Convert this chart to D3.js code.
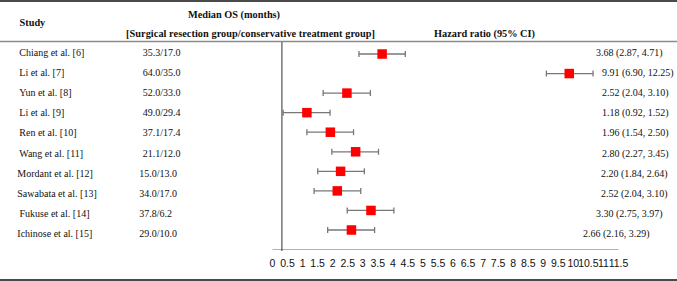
<!DOCTYPE html>
<html><head><meta charset="utf-8">
<script src="https://cdn.jsdelivr.net/npm/d3@7"></script>
<style>
html,body{margin:0;padding:0;background:#fff;}
svg{display:block;}
.serif{font-family:"Liberation Serif","Times New Roman",serif;}
</style></head>
<body>
<script>
// ---- data ----
const studies = ["Chiang et al. [6]","Li et al. [7]","Yun et al. [8]","Li et al. [9]","Ren et al. [10]","Wang et al. [11]","Mordant et al. [12]","Sawabata et al. [13]","Fukuse et al. [14]","Ichinose et al. [15]"];
const medianOS = ["35.3/17.0","64.0/35.0","52.0/33.0","49.0/29.4","37.1/17.4","21.1/12.0","15.0/13.0","34.0/17.0","37.8/6.2","29.0/10.0"];
const hr     = [3.68, 9.91, 2.52, 1.18, 1.96, 2.80, 2.20, 2.52, 3.30, 2.66];
const ciLow  = [2.87, 6.90, 2.04, 0.92, 1.54, 2.27, 1.84, 2.04, 2.75, 2.16];
const ciHigh = [4.71, 12.25, 3.10, 1.52, 2.50, 3.45, 2.64, 3.10, 3.97, 3.29];
// marker and whisker positions as drawn in the picture
const plotPoint = [3.66, 9.88, 2.49, 1.16, 1.94, 2.78, 2.28, 2.17, 3.29, 2.64];
const plotLow   = [2.89, 9.12, 1.70, 0.37, 1.16, 1.99, 1.52, 1.40, 2.50, 1.85];
const plotHigh  = [4.43, 10.67, 3.27, 1.93, 2.71, 3.54, 3.07, 2.95, 4.05, 3.41];
const tickValues = d3.range(0, 11.51, 0.5);
const refValue = 0.33;

// ---- layout ----
const W = 677, H = 281;
const svg = d3.select("body").append("svg").attr("width", W).attr("height", H);
const x = d3.scaleLinear().domain([0, 11.5]).range([272, 618]);
const yText = d3.scaleLinear().domain([0, 9]).range([52.7, 233.3]);
const yMark = d3.scaleLinear().domain([0, 9]).range([54, 230]);
const studyX = [19.3,19.3,19.3,19.3,19.3,19.3,17.3,17.3,19.5,17.3];
const medX   = [142.7,142.7,142.7,142.7,142.7,142.7,139.3,139.3,139.3,139.3];
const hrX    = [596,602,602,602,602,602,601,601,596,583];

// table rules
svg.append("line").attr("x1",0).attr("x2",W).attr("y1",1).attr("y2",1).attr("stroke","#4a4a4a").attr("stroke-width",2);
svg.append("line").attr("x1",0).attr("x2",W).attr("y1",41.5).attr("y2",41.5).attr("stroke","#8a8a8a").attr("stroke-width",1.5);
svg.append("line").attr("x1",0).attr("x2",W).attr("y1",280).attr("y2",280).attr("stroke","#4a4a4a").attr("stroke-width",2);

// headers
const hdr = svg.append("g").attr("class","serif").attr("font-size",10.3).attr("font-weight","bold").attr("fill","#111");
hdr.append("text").attr("x",19.5).attr("y",26).text("Study");
hdr.append("text").attr("x",234).attr("y",17.5).attr("text-anchor","middle").text("Median OS (months)");
hdr.append("text").attr("x",126).attr("y",36.5).attr("textLength",249).attr("lengthAdjust","spacing")
  .text("[Surgical resection group/conservative treatment group]");
hdr.append("text").attr("x",434).attr("y",36.5).text("Hazard ratio (95% CI)");

// rows text
const rows = svg.append("g").attr("class","serif").attr("font-size",10).attr("fill","#111");
studies.forEach((s,i)=>{
  rows.append("text").attr("x",studyX[i]).attr("y",yText(i)+3.5).text(s);
  rows.append("text").attr("x",medX[i]).attr("y",yText(i)+3.5).text(medianOS[i]);
  rows.append("text").attr("x",hrX[i]).attr("y",yText(i)+3.5)
    .text(`${hr[i].toFixed(2)} (${ciLow[i].toFixed(2)}, ${ciHigh[i].toFixed(2)})`);
});

// axis
const axis = d3.axisBottom(x).tickValues(tickValues).tickSize(0).tickSizeOuter(0).tickPadding(11)
  .tickFormat(d => d3.format("~g")(d));
const ax = svg.append("g").attr("transform","translate(0,249)").call(axis);
ax.select(".domain").attr("stroke","#b0b0b0").attr("stroke-width",1);
ax.selectAll("text").attr("font-family","'Liberation Sans Narrow','Liberation Sans',Arial,sans-serif")
  .attr("font-size",10.5).attr("fill","#111");

// reference vertical line
svg.append("line").attr("x1",x(refValue)).attr("x2",x(refValue)).attr("y1",42).attr("y2",251)
  .attr("stroke","#333").attr("stroke-width",1);

// whiskers
const wk = svg.append("g").attr("stroke","#777").attr("stroke-width",1.3);
studies.forEach((s,i)=>{
  const yy = yMark(i);
  wk.append("line").attr("x1",x(plotLow[i])).attr("x2",x(plotHigh[i])).attr("y1",yy).attr("y2",yy);
  wk.append("line").attr("x1",x(plotLow[i])).attr("x2",x(plotLow[i])).attr("y1",yy-3).attr("y2",yy+3);
  wk.append("line").attr("x1",x(plotHigh[i])).attr("x2",x(plotHigh[i])).attr("y1",yy-3).attr("y2",yy+3);
});
// markers
const ms = 9.5;
svg.append("g").selectAll("rect").data(plotPoint).join("rect")
  .attr("x",d=>x(d)-ms/2).attr("y",(d,i)=>yMark(i)-ms/2)
  .attr("width",ms).attr("height",ms).attr("fill","#ff0000");
</script>
</body></html>
